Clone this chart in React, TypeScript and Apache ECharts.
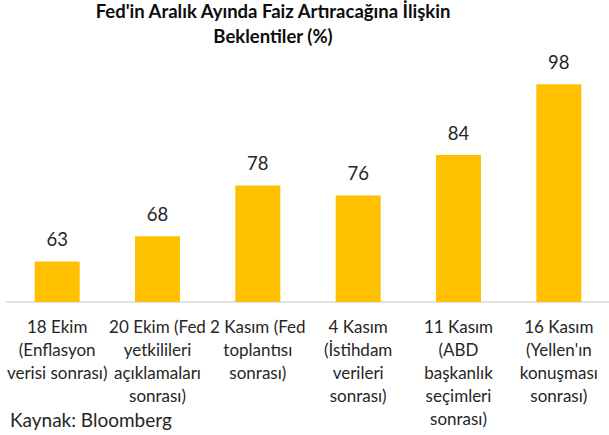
import React, { useEffect, useRef } from "react";
import * as echarts from "echarts";

const titleLines = ["Fed'in Aralık Ayında Faiz Artıracağına İlişkin", "Beklentiler (%)"];
const categories = [
  "18 Ekim\n(Enflasyon\nverisi sonrası)",
  "20 Ekim (Fed\nyetkilileri\naçıklamaları\nsonrası)",
  "2 Kasım (Fed\ntoplantısı\nsonrası)",
  "4 Kasım\n(İstihdam\nverileri\nsonrası)",
  "11 Kasım\n(ABD\nbaşkanlık\nseçimleri\nsonrası)",
  "16 Kasım\n(Yellen'ın\nkonuşması\nsonrası)",
];
const values = [63, 68, 78, 76, 84, 98];
const sourceText = "Kaynak: Bloomberg";

const FONT = "Lato, 'Open Sans', sans-serif";

export default function App() {
  const ref = useRef<HTMLDivElement>(null);
  useEffect(() => {
    if (!ref.current) return;
    const chart = echarts.init(ref.current, undefined, { renderer: "svg" });
    chart.setOption({
      animation: false,
      backgroundColor: "#ffffff",
      title: {
        text: titleLines.join("\n"),
        left: 268,
        textAlign: "center",
        top: -7,
        textStyle: {
          fontFamily: FONT,
          fontWeight: "bold",
          fontSize: 18.5,
          lineHeight: 25,
          color: "#0d0d0d",
        },
      },
      graphic: [
        {
          type: "text",
          left: 10,
          top: 410,
          style: {
            text: sourceText,
            fontFamily: FONT,
            fontSize: 19,
            fill: "#262626",
          },
        },
      ],
      grid: { left: 7, right: -9, top: 74, bottom: 133, containLabel: false },
      xAxis: {
        type: "category",
        data: categories,
        axisLine: { show: true, lineStyle: { color: "#d9d9d9", width: 1.5 } },
        axisTick: { show: false },
        axisLabel: {
          interval: 0,
          margin: 13,
          fontFamily: FONT,
          fontSize: 17,
          lineHeight: 23,
          color: "#262626",
        },
      },
      yAxis: {
        type: "value",
        min: 55,
        max: 100,
        show: false,
        splitLine: { show: false },
      },
      series: [
        {
          type: "bar",
          data: values,
          barWidth: 45,
          itemStyle: { color: "#FFC000" },
          label: {
            show: true,
            position: "top",
            distance: 13,
            fontFamily: FONT,
            fontSize: 18.5,
            color: "#262626",
          },
        },
      ],
    });
    return () => chart.dispose();
  }, []);
  return <div ref={ref} style={{ width: 609, height: 435, position: "absolute", left: 0, top: 0 }} />;
}
